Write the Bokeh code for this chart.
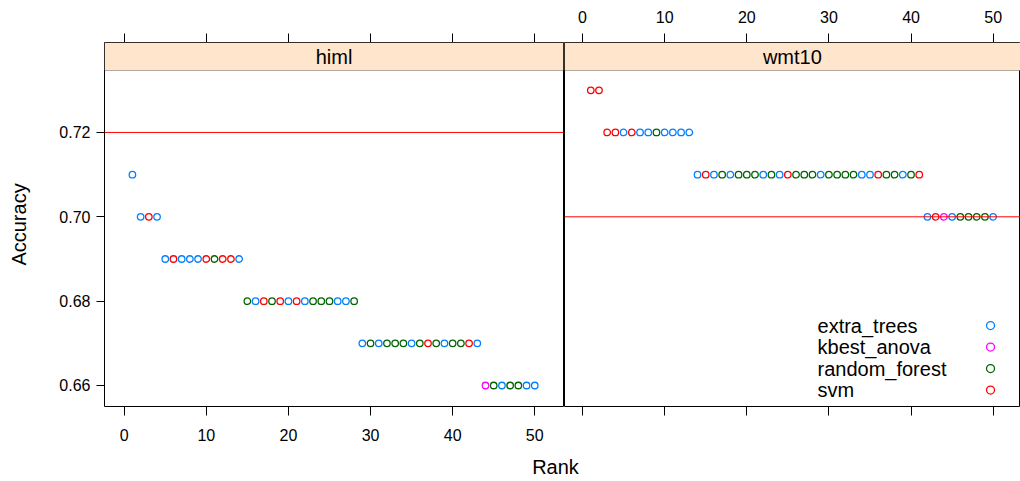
from bokeh.plotting import figure
from bokeh.models import (ColumnDataSource, Span, BoxAnnotation, Label,
                          LinearAxis, FixedTicker, Range1d, NumeralTickFormatter)
from bokeh.transform import factor_cmap
from bokeh.layouts import column, row
from bokeh.embed import file_html
from bokeh.resources import INLINE

# ---------------- data ----------------
methods = ["extra_trees", "kbest_anova", "random_forest", "svm"]
method_colors = ["#0080ff", "#ff00ff", "#006400", "#ff0000"]
method_code = {"e": "extra_trees", "k": "kbest_anova", "r": "random_forest", "s": "svm"}
panels = ["himl", "wmt10"]
reference_lines = [0.72, 0.70]
x_ticks = [0, 10, 20, 30, 40, 50]
y_ticks = [0.66, 0.68, 0.70, 0.72]

ranks = list(range(1, 51))

himl_accuracy = [
    0.71,
    0.70, 0.70, 0.70,
    0.69, 0.69, 0.69, 0.69, 0.69, 0.69, 0.69, 0.69, 0.69, 0.69,
    0.68, 0.68, 0.68, 0.68, 0.68, 0.68, 0.68, 0.68, 0.68, 0.68, 0.68, 0.68, 0.68, 0.68,
    0.67, 0.67, 0.67, 0.67, 0.67, 0.67, 0.67, 0.67, 0.67, 0.67, 0.67, 0.67, 0.67, 0.67, 0.67,
    0.66, 0.66, 0.66, 0.66, 0.66, 0.66, 0.66,
]
himl_method = [
    "e",
    "e", "s", "e",
    "e", "s", "e", "e", "e", "s", "r", "s", "s", "e",
    "r", "e", "s", "r", "s", "e", "s", "e", "r", "r", "r", "e", "e", "r",
    "e", "r", "e", "r", "r", "r", "e", "r", "s", "r", "e", "r", "r", "s", "e",
    "k", "r", "e", "r", "r", "e", "e",
]

wmt10_accuracy = [
    0.73, 0.73,
    0.72, 0.72, 0.72, 0.72, 0.72, 0.72, 0.72, 0.72, 0.72, 0.72, 0.72,
    0.71, 0.71, 0.71, 0.71, 0.71, 0.71, 0.71, 0.71, 0.71, 0.71, 0.71, 0.71, 0.71, 0.71,
    0.71, 0.71, 0.71, 0.71, 0.71, 0.71, 0.71, 0.71, 0.71, 0.71, 0.71, 0.71, 0.71, 0.71,
    0.70, 0.70, 0.70, 0.70, 0.70, 0.70, 0.70, 0.70, 0.70,
]
wmt10_method = [
    "s", "s",
    "s", "s", "e", "s", "e", "e", "r", "e", "e", "e", "e",
    "e", "s", "e", "r", "e", "r", "r", "r", "e", "r", "e", "s", "r", "r",
    "r", "e", "r", "r", "r", "r", "e", "e", "s", "r", "r", "e", "r", "s",
    "e", "s", "k", "e", "r", "r", "r", "r", "e",
]

# ---------------- layout constants ----------------
FONT = "Liberation Sans"
ROW_H = 450
BORDER_TOP = 42
BORDER_BOTTOM = 44
Y0, Y1 = 0.65502, 0.74133
STRIP_Y = 0.73469
STRIP_CENTER_X = 25.55


def style_axis(ax, show_labels, standoff):
    ax.axis_line_color = None
    ax.major_tick_line_color = "black"
    ax.major_tick_in = 0
    ax.major_tick_out = 9
    ax.minor_tick_line_color = None
    ax.major_label_text_font = FONT
    ax.major_label_text_font_size = "16px"
    ax.major_label_text_color = "black"
    ax.major_label_standoff = standoff
    if not show_labels:
        ax.major_label_overrides = {t: "" for t in x_ticks}


def make_panel(name, accuracy, codes, ref, xr, width, bl, br, top_labels, bottom_labels, left_axis):
    p = figure(width=width, height=ROW_H,
               x_range=Range1d(*xr), y_range=Range1d(Y0, Y1),
               x_axis_type=None, y_axis_type=None,
               toolbar_location=None, output_backend="svg",
               min_border_left=bl, min_border_right=br,
               min_border_top=BORDER_TOP, min_border_bottom=BORDER_BOTTOM)
    p.outline_line_color = "black"
    p.outline_line_width = 1
    p.background_fill_color = "white"
    p.border_fill_color = "white"

    top = LinearAxis(ticker=FixedTicker(ticks=x_ticks))
    style_axis(top, top_labels, 11)
    p.add_layout(top, "above")
    bottom = LinearAxis(ticker=FixedTicker(ticks=x_ticks))
    style_axis(bottom, bottom_labels, 13)
    p.add_layout(bottom, "below")

    if left_axis:
        ya = LinearAxis(ticker=FixedTicker(ticks=y_ticks),
                        formatter=NumeralTickFormatter(format="0.00"))
        ya.axis_line_color = None
        ya.major_tick_line_color = "black"
        ya.major_tick_in = 0
        ya.major_tick_out = 8
        ya.minor_tick_line_color = None
        ya.major_label_text_font = FONT
        ya.major_label_text_font_size = "16px"
        ya.major_label_text_color = "black"
        ya.major_label_standoff = 6
        ya.axis_label = "Accuracy"
        ya.axis_label_text_font = FONT
        ya.axis_label_text_font_size = "20px"
        ya.axis_label_text_font_style = "normal"
        ya.axis_label_text_color = "black"
        ya.axis_label_standoff = 26
        p.add_layout(ya, "left")

    # strip
    p.add_layout(BoxAnnotation(left=xr[0], right=xr[1], bottom=STRIP_Y, top=Y1,
                               fill_color="#ffe5cc", fill_alpha=1.0,
                               line_color="black", line_width=1))
    p.add_layout(Label(x=STRIP_CENTER_X, y=(STRIP_Y + Y1) / 2, text=name,
                       text_align="center", text_baseline="middle",
                       text_font=FONT, text_font_size="20px", text_color="black"))

    # reference line
    p.add_layout(Span(location=ref, dimension="width", line_color="red", line_width=1))

    src = ColumnDataSource(dict(rank=ranks, accuracy=accuracy,
                                method=[method_code[c] for c in codes]))
    p.scatter("rank", "accuracy", source=src, marker="circle", size=6.5,
              fill_color=None, line_width=1.3,
              line_color=factor_cmap("method", method_colors, methods))
    return p


p1 = make_panel(panels[0], himl_accuracy, himl_method, reference_lines[0],
                (-2.4, 53.5), 564, 104, 1, False, True, True)
p2 = make_panel(panels[1], wmt10_accuracy, wmt10_method, reference_lines[1],
                (-2.2, 53.33), 456, 0, 0, True, False, False)

# legend (label left, symbol right)
leg_y0 = 0.67422
leg_step = 0.0051
leg_text_x = 28.61
leg_sym_x = 49.68
leg_y = [leg_y0 - i * leg_step for i in range(len(methods))]
for m, yv in zip(methods, leg_y):
    p2.add_layout(Label(x=leg_text_x, y=yv, text=m, text_align="left",
                        text_baseline="middle", text_font=FONT,
                        text_font_size="20px", text_color="black"))
leg_src = ColumnDataSource(dict(x=[leg_sym_x] * len(methods), y=leg_y, method=methods))
p2.scatter("x", "y", source=leg_src, marker="circle", size=8, fill_color=None,
           line_width=1.3, line_color=factor_cmap("method", method_colors, methods))

# x axis title spanning both panels
p3 = figure(width=1020, height=26, x_range=Range1d(0, 1020), y_range=Range1d(0, 26),
            x_axis_type=None, y_axis_type=None, toolbar_location=None,
            output_backend="svg", min_border=0)
p3.outline_line_color = None
p3.add_layout(Label(x=555, y=10, text="Rank", text_align="center",
                    text_baseline="middle", text_font=FONT,
                    text_font_size="20px", text_color="black"))

layout = column(row(p1, p2), p3)
open("out.html", "w").write(file_html(layout, INLINE))
